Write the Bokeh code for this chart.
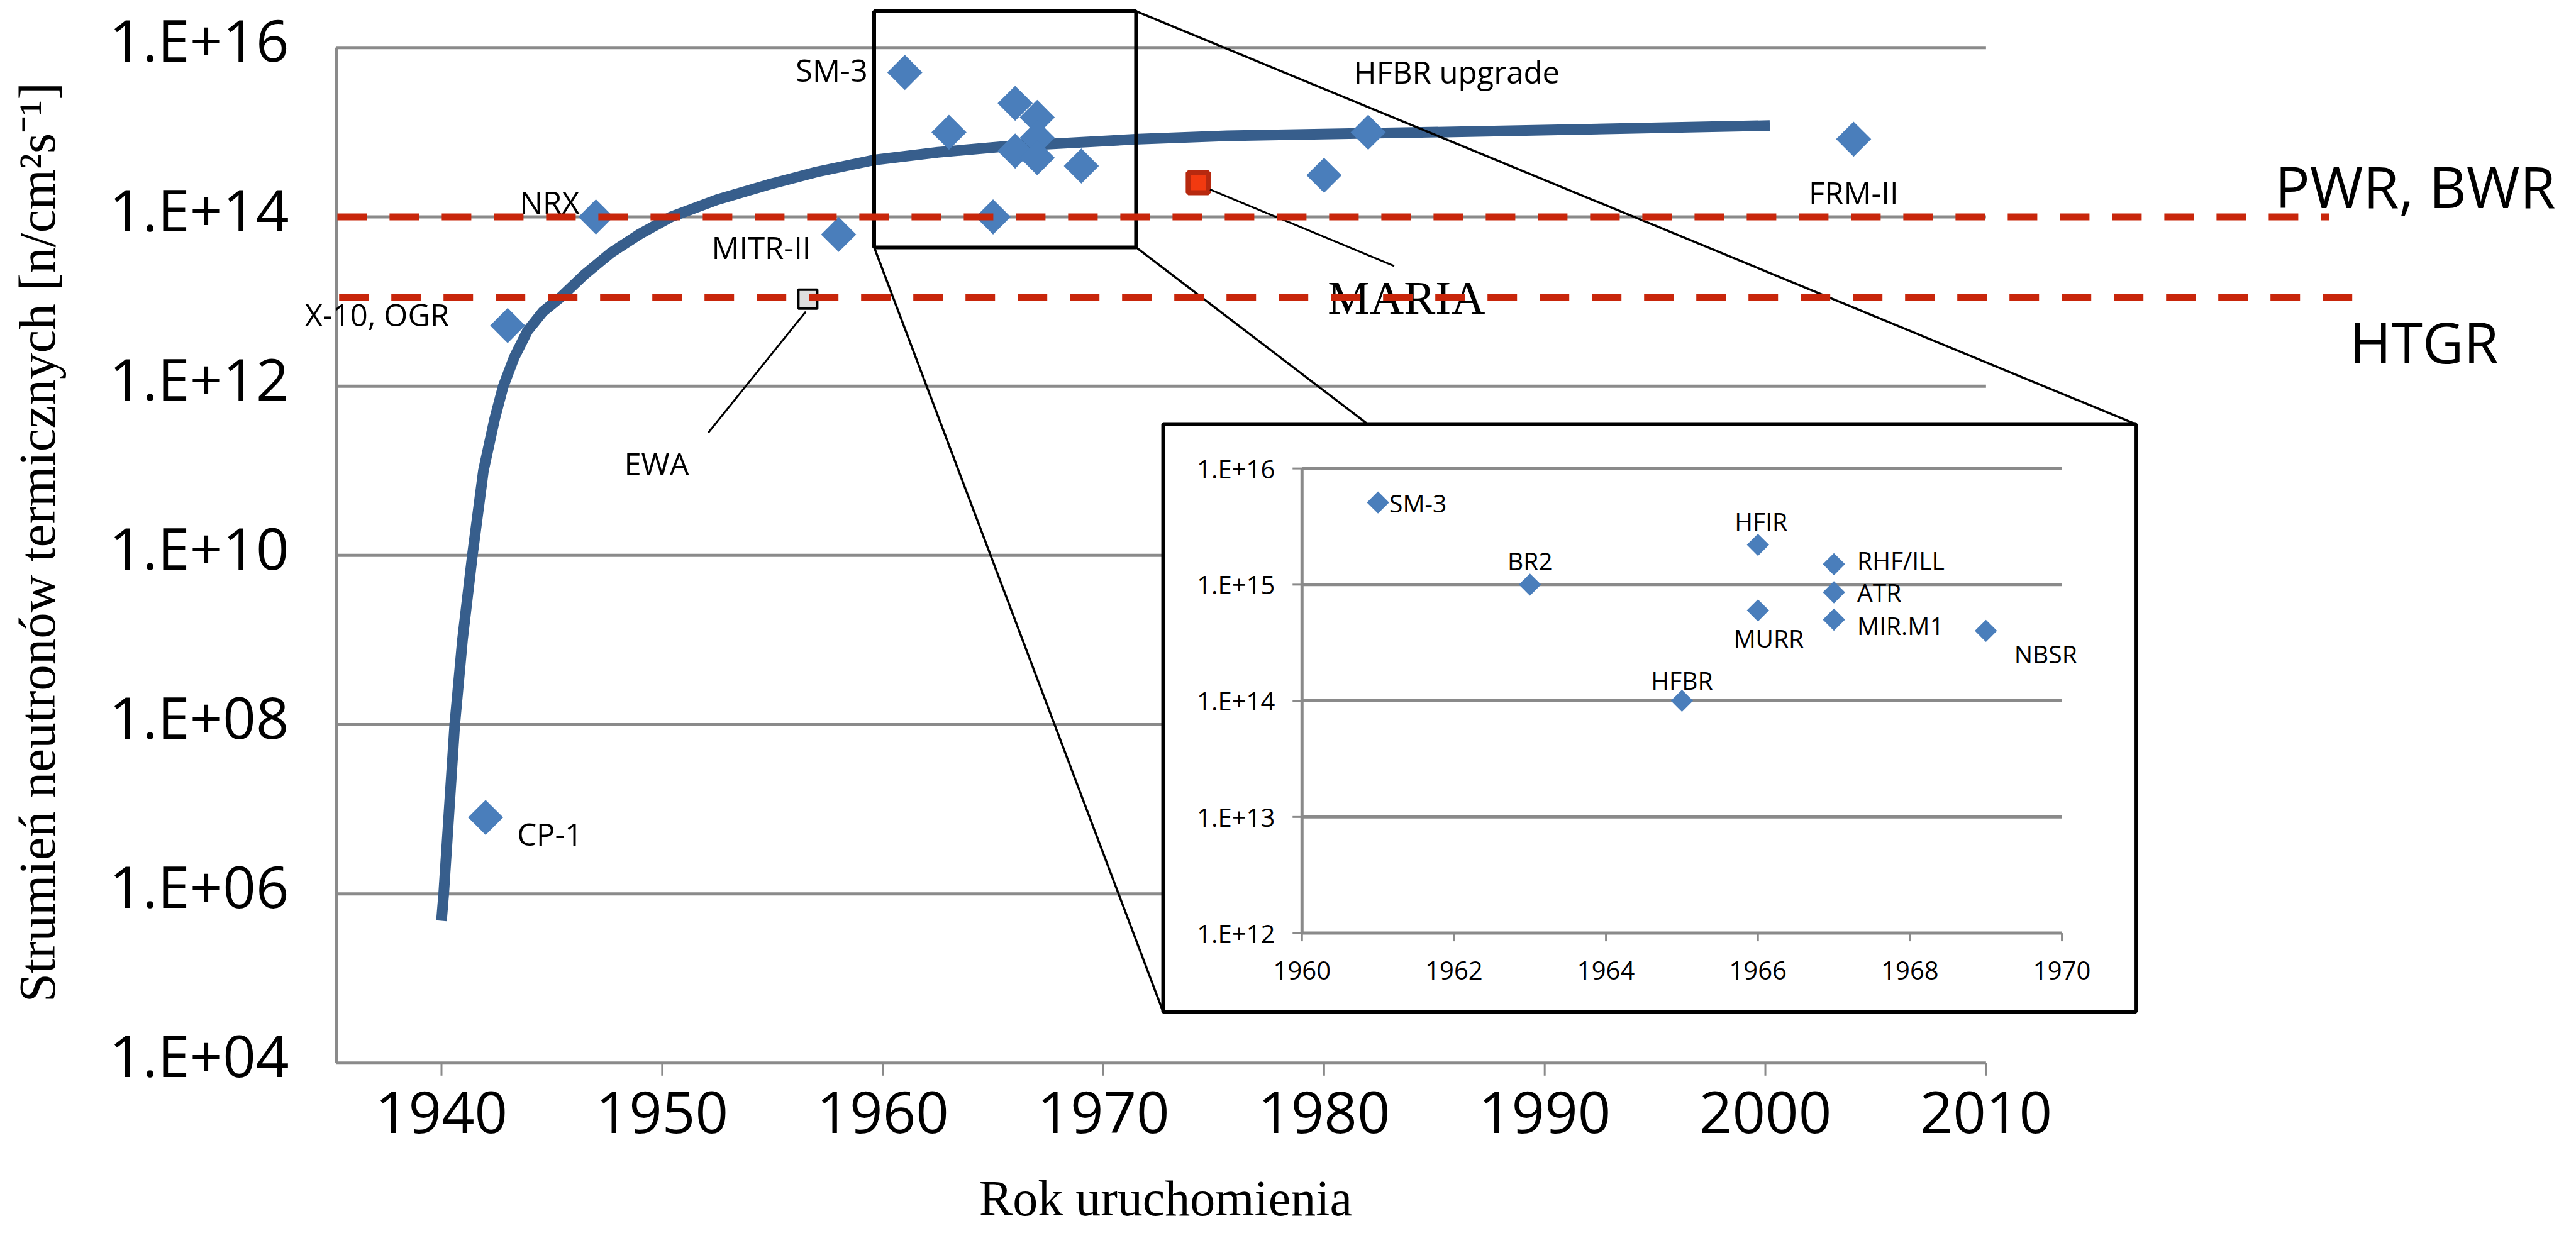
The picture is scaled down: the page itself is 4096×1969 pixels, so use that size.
import math
from bokeh.plotting import figure
from bokeh.models import Range1d, LogScale, ColumnDataSource
from bokeh.core.properties import value
from bokeh.embed import file_html
from bokeh.resources import INLINE

# ---------------- data ----------------
reactor_names = ["CP-1", "X-10, OGR", "NRX", "MITR-II", "SM-3", "BR2", "HFBR", "HFIR",
                 "MURR", "RHF/ILL", "ATR", "MIR.M1", "NBSR", "", "HFBR upgrade", "FRM-II"]
reactor_years = [1942, 1943, 1947, 1958, 1961, 1963, 1965, 1966,
                 1966, 1967, 1967, 1967, 1969, 1980, 1982, 2004]
reactor_flux = [8e6, 5.2e12, 1.0e14, 6.2e13, 5.1e15, 1.0e15, 1.0e14, 2.2e15,
                6.0e14, 1.5e15, 8.6e14, 5.0e14, 4.0e14, 3.1e14, 1.0e15, 8.3e14]

maria_year, maria_flux = [1974.3], [2.54e14]
ewa_year, ewa_flux = [1956.6], [1.07e13]

curve_years = [1940.0, 1940.1, 1940.35, 1940.6, 1940.95, 1941.4, 1941.9, 1942.4, 1942.8,
               1943.3, 1943.9, 1944.6, 1945.4, 1946.5, 1947.7, 1949.0, 1950.4, 1952.5,
               1954.8, 1957.0, 1959.6, 1962.5, 1965.5, 1971.6, 1975.6, 1986.6, 2000.2]
curve_flux = [4.8e5, 1e6, 1e7, 1e8, 1e9, 1e10, 1.0e11, 4.0e11, 1.0e12,
              2.2e12, 4.5e12, 7.6e12, 1.12e13, 2.1e13, 3.8e13, 6.3e13, 1.0e14, 1.6e14,
              2.4e14, 3.4e14, 4.7e14, 5.8e14, 6.8e14, 8.3e14, 9.1e14, 1.02e15, 1.2e15]

pwr_flux = 1.0e14
htgr_flux = 1.12e13
pwr_years = [1935.28, 2025.56]
htgr_years = [1935.36, 2027.1]

x_ticks = [1940, 1950, 1960, 1970, 1980, 1990, 2000, 2010]
x_tick_labels = ["1940", "1950", "1960", "1970", "1980", "1990", "2000", "2010"]
y_ticks = [1e4, 1e6, 1e8, 1e10, 1e12, 1e14, 1e16]
y_tick_labels = ["1.E+04", "1.E+06", "1.E+08", "1.E+10", "1.E+12", "1.E+14", "1.E+16"]

inset_x_ticks = [1960, 1962, 1964, 1966, 1968, 1970]
inset_x_tick_labels = ["1960", "1962", "1964", "1966", "1968", "1970"]
inset_y_ticks = [1e12, 1e13, 1e14, 1e15, 1e16]
inset_y_tick_labels = ["1.E+12", "1.E+13", "1.E+14", "1.E+15", "1.E+16"]

x_title = "Rok uruchomienia"
y_title = "Strumień neutronów termicznych [n/cm²s⁻¹]"

# annotation geometry (main data coordinates)
zoom_box_years = [1959.61, 1971.48]
zoom_box_flux = [10 ** 13.64, 10 ** 16.43]
inset_box_years = [1972.71, 2016.79]
inset_box_flux = [10 ** 4.604, 10 ** 11.551]
connector_x0 = [1959.61, 1971.48, 1971.48]
connector_y0 = [10 ** 13.64, 10 ** 13.64, 10 ** 16.43]
connector_x1 = [1972.71, 1981.98, 2016.79]
connector_y1 = [10 ** 4.604, 10 ** 11.551, 10 ** 11.551]
leader_x0 = [1974.83, 1956.51]
leader_y0 = [10 ** 14.325, 10 ** 12.88]
leader_x1 = [1983.18, 1952.09]
leader_y1 = [10 ** 13.42, 10 ** 11.449]

# ---------------- layout / styles ----------------
FIG_W, FIG_H = 4080, 1953
PX_PER_YEAR = 35.084
PX_PER_DEC = 134.58
AXIS_YEAR0 = 1935.226          # left end of the x axis
AXIS_YEAR1 = 2010
AXIS_LEFT_PX = 534.0           # canvas x of the y axis
AXIS_BOTTOM_PX = 1690.3        # canvas y of the x axis (1e4)
X0 = AXIS_YEAR0 - AXIS_LEFT_PX / PX_PER_YEAR
X1 = X0 + FIG_W / PX_PER_YEAR
LOG0 = 4 - (FIG_H - AXIS_BOTTOM_PX) / PX_PER_DEC
LOG1 = 4 + AXIS_BOTTOM_PX / PX_PER_DEC

# inset placement: inset (1960, 1970) -> main years; inset (1e12, 1e16) -> main log10
INSET_MAIN_X = (1979.0, 2013.44)
INSET_MAIN_LOG = (5.536, 11.027)
kx = (INSET_MAIN_X[1] - INSET_MAIN_X[0]) / 10.0
ky = (INSET_MAIN_LOG[1] - INSET_MAIN_LOG[0]) / 4.0
ix0 = 1960 + (X0 - INSET_MAIN_X[0]) / kx
ix1 = 1960 + (X1 - INSET_MAIN_X[0]) / kx
iy0 = 12 + (LOG0 - INSET_MAIN_LOG[0]) / ky
iy1 = 12 + (LOG1 - INSET_MAIN_LOG[0]) / ky
INSET_PX_PER_YEAR = PX_PER_YEAR * kx
INSET_PX_PER_DEC = PX_PER_DEC * ky

GRAY = "#8a8a8a"
BLUE = "#4a7ebb"
CURVE = "#375e8c"
RED = "#c8260b"
SANS = "Open Sans"
SERIF = "Liberation Serif"

p = figure(width=FIG_W, height=FIG_H,
           x_range=Range1d(X0, X1), y_range=Range1d(10 ** LOG0, 10 ** LOG1),
           y_axis_type="log", x_axis_location=None, y_axis_location=None,
           output_backend="svg", toolbar_location=None,
           min_border=0, min_border_left=0, min_border_right=0,
           min_border_top=0, min_border_bottom=0)
p.outline_line_color = None
p.grid.visible = False
p.background_fill_color = "white"
p.border_fill_color = "white"

p.extra_x_ranges = {"inset": Range1d(ix0, ix1)}
p.extra_y_ranges = {"inset": Range1d(10 ** iy0, 10 ** iy1)}
p.extra_y_scales = {"inset": LogScale()}

# main gridlines
grid_vals = y_ticks[1:]
p.segment(x0=[AXIS_YEAR0] * len(grid_vals), x1=[AXIS_YEAR1] * len(grid_vals),
          y0=grid_vals, y1=grid_vals, line_color=GRAY, line_width=5)

# main axes (drawn from the tick lists)
p.segment(x0=[AXIS_YEAR0, AXIS_YEAR0], y0=[y_ticks[0], y_ticks[0]],
          x1=[AXIS_YEAR0, AXIS_YEAR1], y1=[y_ticks[-1], y_ticks[0]],
          line_color=GRAY, line_width=5)
tick_len_dec = 20 / PX_PER_DEC
p.segment(x0=x_ticks, x1=x_ticks, y0=[y_ticks[0]] * len(x_ticks),
          y1=[y_ticks[0] * 10 ** (-tick_len_dec)] * len(x_ticks), line_color=GRAY, line_width=3)
p.text(x=x_ticks, y=[y_ticks[0]] * len(x_ticks), text=x_tick_labels, y_offset=78,
       text_align="center", text_baseline="middle", text_font=value(SANS),
       text_font_size="92px", text_color="black")
p.text(x=[AXIS_YEAR0] * len(y_ticks), y=y_ticks, text=y_tick_labels, x_offset=-75, y_offset=-13,
       text_align="right", text_baseline="middle", text_font=value(SANS),
       text_font_size="92px", text_color="black")

# trend curve
p.line(curve_years, curve_flux, line_color=CURVE, line_width=17, line_cap="butt", line_join="round")

# reactor diamonds
p.scatter(reactor_years, reactor_flux, marker="square", angle=math.pi / 4, size=39.5,
          fill_color=BLUE, line_color=None)

# EWA and MARIA squares
p.scatter(ewa_year, ewa_flux, marker="square", size=30, fill_color="#dedede",
          line_color="black", line_width=4)
p.scatter(maria_year, maria_flux, marker="square", size=32, fill_color="#f23a10",
          line_color="#b7290f", line_width=8)

# leader lines
p.segment(x0=leader_x0, y0=leader_y0, x1=leader_x1, y1=leader_y1, line_color="black", line_width=3)

# zoom rectangle and connectors
p.segment(x0=connector_x0, y0=connector_y0, x1=connector_x1, y1=connector_y1,
          line_color="black", line_width=3.5)
p.quad(left=[zoom_box_years[0]], right=[zoom_box_years[1]],
       bottom=[zoom_box_flux[0]], top=[zoom_box_flux[1]],
       fill_color=None, line_color="black", line_width=6)

# inset box
p.quad(left=[inset_box_years[0]], right=[inset_box_years[1]],
       bottom=[inset_box_flux[0]], top=[inset_box_flux[1]],
       fill_color="white", line_color="black", line_width=6)

# ---------------- inset ----------------
ins = dict(x_range_name="inset", y_range_name="inset")
p.segment(x0=[1960] * 5, x1=[1970] * 5, y0=inset_y_ticks, y1=inset_y_ticks,
          line_color=GRAY, line_width=5, **ins)
p.segment(x0=[1960], x1=[1960], y0=[1e12], y1=[1e16], line_color=GRAY, line_width=5, **ins)
ytick_len = 15 / INSET_PX_PER_YEAR
p.segment(x0=[1960 - ytick_len] * 5, x1=[1960] * 5, y0=inset_y_ticks, y1=inset_y_ticks,
          line_color=GRAY, line_width=3, **ins)
xtick_len = 13 / INSET_PX_PER_DEC
p.segment(x0=inset_x_ticks, x1=inset_x_ticks, y0=[1e12] * 6,
          y1=[1e12 * 10 ** (-xtick_len)] * 6, line_color=GRAY, line_width=3, **ins)
p.text(x=[1960] * 5, y=inset_y_ticks, text=inset_y_tick_labels, x_offset=-43,
       text_align="right", text_baseline="middle", text_font=value(SANS),
       text_font_size="40px", text_color="black", **ins)
p.text(x=inset_x_ticks, y=[1e12] * 6, text=inset_x_tick_labels, y_offset=59,
       text_align="center", text_baseline="middle", text_font=value(SANS),
       text_font_size="40px", text_color="black", **ins)

inset_idx = [i for i, yv in enumerate(reactor_years) if 1960 <= yv <= 1970]
inset_years = [reactor_years[i] for i in inset_idx]
inset_flux = [reactor_flux[i] for i in inset_idx]
inset_names = [reactor_names[i] for i in inset_idx]
p.scatter(inset_years, inset_flux, marker="square", angle=math.pi / 4, size=25,
          fill_color=BLUE, line_color=None, **ins)

inset_label_style = {  # name: (align, dx px, dy px)
    "SM-3": ("left", 18, 0),
    "BR2": ("center", 0, -38),
    "HFIR": ("center", 5, -38),
    "MURR": ("center", 17, 44),
    "RHF/ILL": ("left", 37, -7),
    "ATR": ("left", 37, 0),
    "MIR.M1": ("left", 37, 9),
    "NBSR": ("left", 45, 36),
    "HFBR": ("center", 0, -33),
}


def add_labels(names, xs, ys, style, size, font, extra):
    for align in ("left", "center", "right"):
        sel = [i for i, n in enumerate(names) if n in style and style[n][0] == align]
        if not sel:
            continue
        src = ColumnDataSource(dict(
            x=[xs[i] for i in sel], y=[ys[i] for i in sel], t=[names[i] for i in sel],
            dx=[style[names[i]][1] for i in sel], dy=[style[names[i]][2] for i in sel]))
        p.text(x="x", y="y", text="t", x_offset="dx", y_offset="dy", source=src,
               text_align=align, text_baseline="middle", text_font=value(font),
               text_font_size=size, text_color="black", **extra)


add_labels(inset_names, inset_years, inset_flux, inset_label_style, "39px", SANS, ins)

# ---------------- main labels ----------------
main_label_style = {
    "CP-1": ("left", 50, 26),
    "X-10, OGR": ("right", -93, -18),
    "NRX": ("right", -26, -24),
    "MITR-II": ("right", -44, 20),
    "SM-3": ("right", -59, -4),
    "HFBR upgrade": ("left", -23, -96),
    "FRM-II": ("center", 0, 85),
}
add_labels(reactor_names, reactor_years, reactor_flux, main_label_style, "49px", SANS, {})
add_labels(["EWA"], ewa_year, ewa_flux, {"EWA": ("left", -292, 261)}, "49px", SANS, {})
add_labels(["MARIA"], maria_year, maria_flux, {"MARIA": ("center", 331, 183)}, "75px", SERIF, {})

# reference lines
p.line(pwr_years, [pwr_flux] * 2, line_color=RED, line_width=11, line_dash="47 36", line_cap="butt")
p.line(htgr_years, [htgr_flux] * 2, line_color=RED, line_width=11, line_dash="47 36", line_cap="butt")
p.text(x=[2023.1], y=[pwr_flux], text=["PWR, BWR"], y_offset=-50, text_align="left",
       text_baseline="middle", text_font=value(SANS), text_font_size="92px", text_color="black")
p.text(x=[2026.48], y=[htgr_flux], text=["HTGR"], y_offset=70, text_align="left",
       text_baseline="middle", text_font=value(SANS), text_font_size="90px", text_color="black")

# axis titles
p.text(x=[1972.82], y=[10 ** 2.40], text=[x_title], text_align="center",
       text_baseline="middle", text_font=value(SERIF), text_font_size="80px",
       text_color="black")
p.text(x=[1921.66], y=[10 ** 10.153], text=[y_title], angle=math.pi / 2,
       text_align="center", text_baseline="middle", text_font=value(SERIF),
       text_font_size="83px", text_color="black")

open("out.html", "w").write(file_html(p, INLINE))
